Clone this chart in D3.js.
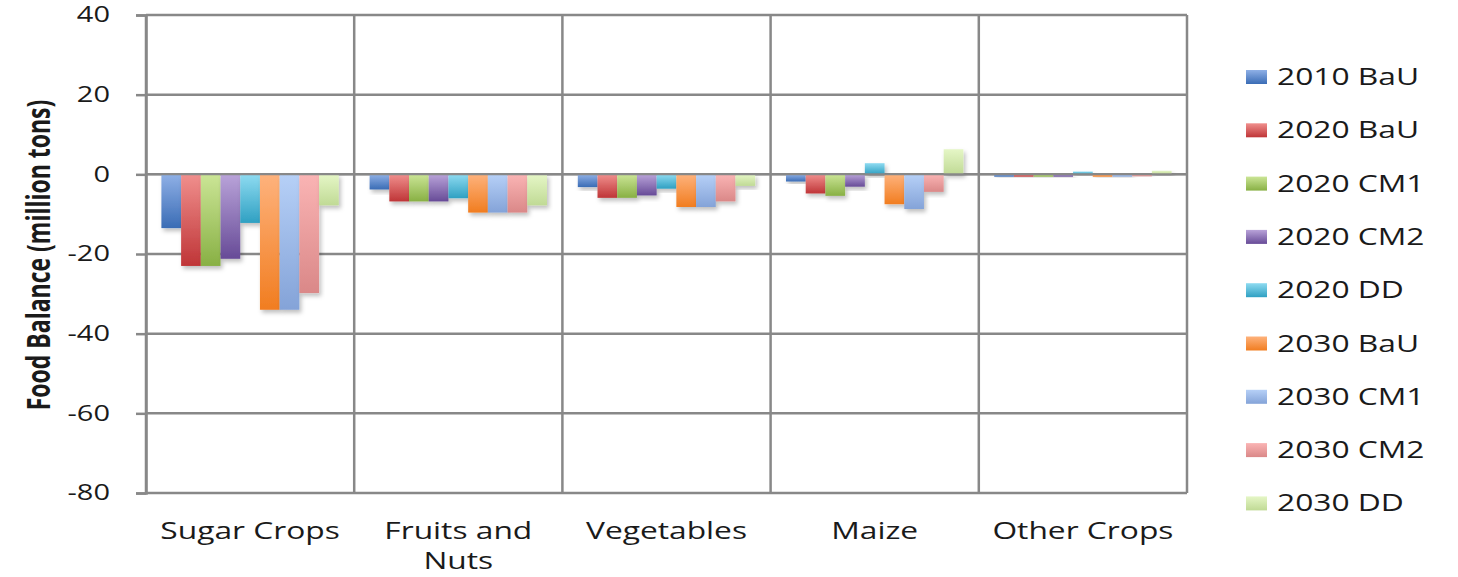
<!DOCTYPE html>
<html>
<head>
<meta charset="utf-8">
<script src="https://cdn.jsdelivr.net/npm/d3@7"></script>
<style>
  body { margin: 0; background: #fff; }
  text { font-family: "Open Sans", sans-serif; fill: #1a1a1a; }
</style>
</head>
<body>
<div id="chart"></div>
<script>
// chart data
var categories = ["Sugar Crops", "Fruits and Nuts", "Vegetables", "Maize", "Other Crops"];
var seriesNames = ["2010 BaU", "2020 BaU", "2020 CM1", "2020 CM2", "2020 DD",
                   "2030 BaU", "2030 CM1", "2030 CM2", "2030 DD"];
var v2010BaU = [-13.5, -3.8, -3.2, -1.8, -0.6];
var v2020BaU = [-23.0, -6.8, -5.9, -4.8, -0.6];
var v2020CM1 = [-23.0, -6.8, -5.9, -5.4, -0.6];
var v2020CM2 = [-21.2, -6.8, -5.3, -3.1, -0.6];
var v2020DD  = [-12.2, -6.0, -3.6, 2.8, 0.7];
var v2030BaU = [-34.0, -9.6, -8.2, -7.5, -0.6];
var v2030CM1 = [-34.0, -9.6, -8.2, -8.7, -0.6];
var v2030CM2 = [-29.8, -9.6, -6.8, -4.4, -0.5];
var v2030DD  = [-7.8, -7.8, -2.9, 6.3, 0.9];
var yTicks = [40, 20, 0, -20, -40, -60, -80];

var seriesValues = [v2010BaU, v2020BaU, v2020CM1, v2020CM2, v2020DD,
                    v2030BaU, v2030CM1, v2030CM2, v2030DD];

// gradient colours (top, bottom) per series
var colors = [
    ["#8fb0e6", "#3a6cb5"],
    ["#f08f8d", "#bf3537"],
    ["#cbe596", "#88b044"],
    ["#b9a3d9", "#674b97"],
    ["#8edbf1", "#2fa0c2"],
    ["#feb27c", "#f17d20"],
    ["#b6d0f7", "#84a3d8"],
    ["#fab4b4", "#da8888"],
    ["#e5f6c6", "#c0da95"]
];

// svg setup
var svgWidth = 1458;
var svgHeight = 577;
var stretch = 1.38; // the reference text is wide, stretch it horizontally

var plot = { left: 146, right: 1187, top: 15, bottom: 493 };

var svg = d3.select('#chart')
    .append('svg')
    .attr('width', svgWidth)
    .attr('height', svgHeight);

var defs = svg.append('defs');

colors.forEach(function(c, i) {
    var g = defs.append('linearGradient')
        .attr('id', 'grad' + i)
        .attr('x1', 0).attr('y1', 0)
        .attr('x2', 0).attr('y2', 1);
    g.append('stop').attr('offset', '0%').attr('stop-color', c[0]);
    g.append('stop').attr('offset', '100%').attr('stop-color', c[1]);
});

var shadow = defs.append('filter')
    .attr('id', 'shadow')
    .attr('x', '-20%').attr('y', '-20%')
    .attr('width', '150%').attr('height', '150%');
shadow.append('feDropShadow')
    .attr('dx', 2).attr('dy', 3)
    .attr('stdDeviation', 2)
    .attr('flood-color', '#000')
    .attr('flood-opacity', 0.25);

// scales
var xScale = d3.scaleBand()
    .domain(categories)
    .range([plot.left, plot.right])
    .padding(0);

var bw = xScale.bandwidth();
var xInner = d3.scaleBand()
    .domain(seriesNames)
    .range([bw * 0.074, bw * 0.926])
    .padding(0);

var yScale = d3.scaleLinear()
    .domain([-80, 40])
    .range([plot.bottom, plot.top]);

var gridColor = '#888888';

// horizontal grid lines
svg.append('g')
    .selectAll('line')
    .data(yTicks)
    .enter()
    .append('line')
    .attr('x1', plot.left)
    .attr('x2', plot.right)
    .attr('y1', d => yScale(d))
    .attr('y2', d => yScale(d))
    .attr('stroke', gridColor)
    .attr('stroke-width', 2.5);

// vertical lines at category borders
var borders = categories.map(d => xScale(d)).concat([plot.right]);
svg.append('g')
    .selectAll('line')
    .data(borders)
    .enter()
    .append('line')
    .attr('x1', d => d)
    .attr('x2', d => d)
    .attr('y1', plot.top)
    .attr('y2', plot.bottom)
    .attr('stroke', gridColor)
    .attr('stroke-width', 2.5);

// bars
var barData = [];
seriesValues.forEach(function(vals, si) {
    vals.forEach(function(v, ci) {
        barData.push({ series: seriesNames[si], si: si, cat: categories[ci], value: v });
    });
});

svg.append('g')
    .selectAll('rect')
    .data(barData)
    .enter()
    .append('rect')
    .attr('x', d => xScale(d.cat) + xInner(d.series))
    .attr('width', xInner.bandwidth())
    .attr('y', d => yScale(Math.max(0, d.value)))
    .attr('height', d => Math.abs(yScale(d.value) - yScale(0)))
    .attr('fill', d => 'url(#grad' + d.si + ')')
    .attr('filter', 'url(#shadow)');

// zero line on top of the bars
svg.append('line')
    .attr('x1', plot.left)
    .attr('x2', plot.right)
    .attr('y1', yScale(0))
    .attr('y2', yScale(0))
    .attr('stroke', gridColor)
    .attr('stroke-width', 2);

// left axis
var leftAxis = d3.axisLeft(yScale)
    .tickValues(yTicks)
    .tickFormat(d => String(d))
    .tickSize(10)
    .tickPadding(0);

var yAxisG = svg.append('g')
    .attr('transform', `translate(${plot.left}, 0)`)
    .call(leftAxis);

yAxisG.select('.domain')
    .attr('stroke', gridColor)
    .attr('stroke-width', 2.5);
yAxisG.selectAll('.tick line')
    .attr('stroke', gridColor)
    .attr('stroke-width', 2.5);
yAxisG.selectAll('.tick text')
    .attr('x', 0)
    .attr('transform', `translate(-36, 0) scale(${stretch}, 1)`)
    .style('font-size', '21px')
    .style('font-family', '"Open Sans", sans-serif')
    .attr('fill', '#1a1a1a');

// category labels
var bottomAxis = d3.axisBottom(xScale)
    .tickSize(0)
    .tickPadding(0);

var xAxisG = svg.append('g')
    .attr('transform', `translate(0, 523)`)
    .call(bottomAxis);

xAxisG.select('.domain').remove();
xAxisG.selectAll('.tick text')
    .style('font-size', '23px')
    .style('font-family', '"Open Sans", sans-serif')
    .attr('fill', '#1a1a1a')
    .attr('transform', `scale(${stretch}, 1)`)
    .call(wrap, bw / stretch - 10);

function wrap(texts, width) {
    texts.each(function() {
        var text = d3.select(this);
        var words = text.text().split(/\s+/);
        var dy = text.attr('dy');
        text.text(null);
        var line = [];
        var tspan = text.append('tspan').attr('x', 0).attr('dy', dy);
        words.forEach(function(w) {
            line.push(w);
            tspan.text(line.join(' '));
            if (tspan.node().getComputedTextLength() > width && line.length > 1) {
                line.pop();
                tspan.text(line.join(' '));
                line = [w];
                tspan = text.append('tspan').attr('x', 0).attr('dy', '1.3em').text(w);
            }
        });
    });
}

// y axis title
svg.append('text')
    .attr('transform', `translate(39, 255) scale(${stretch}, 1) rotate(-90)`)
    .attr('text-anchor', 'middle')
    .attr('dy', '0.35em')
    .style('font-size', '23px')
    .style('font-weight', 'bold')
    .text('Food Balance (million tons)');

// legend
var legend = svg.append('g')
    .attr('transform', 'translate(1246, 77)');

var legendItem = legend.selectAll('g')
    .data(seriesNames)
    .enter()
    .append('g')
    .attr('transform', (d, i) => `translate(0, ${i * 53.3})`);

legendItem.append('rect')
    .attr('x', 0)
    .attr('y', -7)
    .attr('width', 21)
    .attr('height', 14)
    .attr('fill', (d, i) => 'url(#grad' + i + ')');

legendItem.append('text')
    .attr('transform', `translate(31, 0) scale(${stretch}, 1)`)
    .attr('dy', '0.35em')
    .style('font-size', '23px')
    .text(d => d);
</script>
</body>
</html>
